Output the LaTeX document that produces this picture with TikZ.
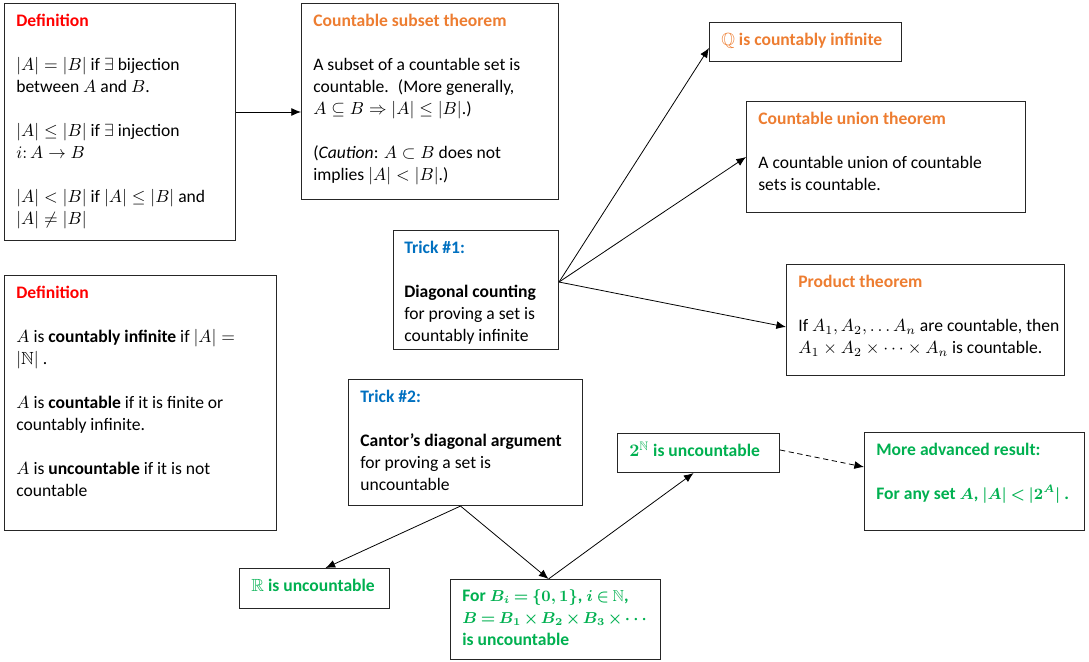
\documentclass[tikz,border=0pt]{standalone}
\usepackage{amssymb}
\usepackage{fontspec}
\setmainfont{Carlito}
\usetikzlibrary{arrows.meta,calc}

\definecolor{defred}{RGB}{255,0,0}
\definecolor{thmorange}{RGB}{237,125,49}
\definecolor{trickblue}{RGB}{0,112,192}
\definecolor{resgreen}{RGB}{0,176,80}

\newcommand{\px}{0.02cm}
\newcommand{\gap}{\\[0.44cm]}
% a little smaller, tighter math for the green boxes
\newcommand{\tightmath}{\medmuskip=2.5mu\relax\thickmuskip=3.5mu\relax}
\newcommand{\sm}[1]{{\fontsize{9}{12.47}\selectfont$#1$}}

\tikzset{
  box/.style 2 args={draw=black!85, line width=0.6pt, anchor=north west, inner sep=0pt,
    minimum width=#1*\px, minimum height=#2*\px},
  txt/.style={anchor=north west, align=left, inner sep=0pt, font=\fontsize{10}{12.47}\selectfont},
  gtxt/.style={txt, text=resgreen, font=\fontsize{10}{12.47}\selectfont\bfseries\boldmath\tightmath},
  link/.style={line width=0.45pt, -{Latex[length=5.5pt,width=4.5pt]}},
}

\begin{document}
\begin{tikzpicture}[x=0.02cm, y=-0.02cm]
\useasboundingbox (0,0) rectangle (1089,662);

% boxes
\node (def1)   [box={231}{237}] at (4,3) {};
\node (csub)   [box={257}{196}] at (301,3) {};
\node (qbox)   [box={192}{39}]  at (709,22) {};
\node (union)  [box={279}{111}] at (746,101) {};
\node (trick1) [box={165}{119}] at (393,230) {};
\node (prod)   [box={278}{111}] at (786,264) {};
\node (def2)   [box={272}{255}] at (4,275) {};
\node (trick2) [box={234}{126}] at (348,379) {};
\node (nbox)   [box={162}{39}]  at (617,433) {};
\node (more)   [box={220}{98}]  at (864,432) {};
\node (rbox)   [box={150}{40}]  at (239,568) {};
\node (bbox)   [box={210}{80}]  at (450,579) {};

% texts (the strut fixes the top of the first line)
\node (def1txt) [txt] at ($(def1.north west)+(12,8)$) {\strut\textcolor{defred}{\textbf{Definition}}\gap
  $|A| = |B|$ if $\exists$ bijection\\ between $A$ and $B$.\gap
  $|A| \leq |B|$ if $\exists$ injection\\ $i\colon A \to B$\gap
  $|A| < |B|$ if $|A| \leq |B|$ and\\ $|A| \neq |B|$};
\node (csubtxt) [txt] at ($(csub.north west)+(12,8)$) {\strut\textcolor{thmorange}{\textbf{Countable subset theorem}}\gap
  A subset of a countable set is\\ countable.~ (More generally,\\ $A \subseteq B \Rightarrow |A| \leq |B|$.)\gap
  (\textit{Caution}: $A \subset B$ does not\\ implies $|A| < |B|$.)};
\node (qtxt) [txt] at ($(qbox.north west)+(12,8)$) {\strut\textcolor{thmorange}{$\mathbb{Q}$ \textbf{is countably infinite}}};
\node (uniontxt) [txt] at ($(union.north west)+(12,8)$) {\strut\textcolor{thmorange}{\textbf{Countable union theorem}}\gap
  A countable union of countable\\ sets is countable.};
\node (trick1txt) [txt] at ($(trick1.north west)+(11,8)$) {\strut\textcolor{trickblue}{\textbf{Trick \#1:}}\gap
  \textbf{Diagonal counting}\\ for proving a set is\\ countably infinite};
\node (prodtxt) [txt] at ($(prod.north west)+(12,8)$) {\strut\textcolor{thmorange}{\textbf{Product theorem}}\gap
  If $A_1, A_2, \ldots A_n$ are countable, then\\ $A_1 \times A_2 \times \cdots \times A_n$ is countable.};
\node (def2txt) [txt] at ($(def2.north west)+(12,8)$) {\strut\textcolor{defred}{\textbf{Definition}}\gap
  $A$ is \textbf{countably infinite} if $|A| =$\\ $|\mathbb{N}|$ .\gap
  $A$ is \textbf{countable} if it is finite or\\ countably infinite.\gap
  $A$ is \textbf{uncountable} if it is not\\ countable};
\node (trick2txt) [txt] at ($(trick2.north west)+(12,8)$) {\strut\textcolor{trickblue}{\textbf{Trick \#2:}}\gap
  \textbf{Cantor’s diagonal argument}\\ for proving a set is\\ uncountable};
\node (ntxt) [gtxt] at ($(nbox.north west)+(12,8)$) {\strut$2^{\mathbb{N}}$ is uncountable};
\node (moretxt) [gtxt] at ($(more.north west)+(12,8)$) {\strut More advanced result:\gap
  For any set \sm{A}, \sm{|A| < |2^A|} .};
\node (rtxt) [gtxt] at ($(rbox.north west)+(12,8)$) {\strut$\mathbb{R}$ is uncountable};
\node (btxt) [gtxt] at ($(bbox.north west)+(12,7)$) {\strut For \sm{B_i = \{0,1\}}, \sm{i \in \mathbb{N}},\\
  \sm{B = B_1 \times B_2 \times B_3 \times \cdots}\\ is uncountable};

% connectors
\draw [link] (def1.east |- 0,112) -- (csub.west |- 0,112);
\draw [link] ($(trick1.east)+(0,-8)$) -- (qbox.west |- 0,48);
\draw [link] ($(trick1.east)+(0,-8)$) -- (union.west);
\draw [link] ($(trick1.east)+(0,-8)$) -- (prod.west |- 0,327);
\draw [link] ($(trick2.south)+(-5,0)$) -- ($(rbox.north)+(11,0)$);
\draw [link] ($(trick2.south)+(-5,0)$) -- ($(bbox.north)+(-7,0)$);
\draw [link] ($(bbox.north)+(-7,0)$) -- ($(nbox.south)+(-5,0)$);
\draw [link, densely dashed] (nbox.east |- 0,450) -- (more.west |- 0,467);
\end{tikzpicture}
\end{document}
